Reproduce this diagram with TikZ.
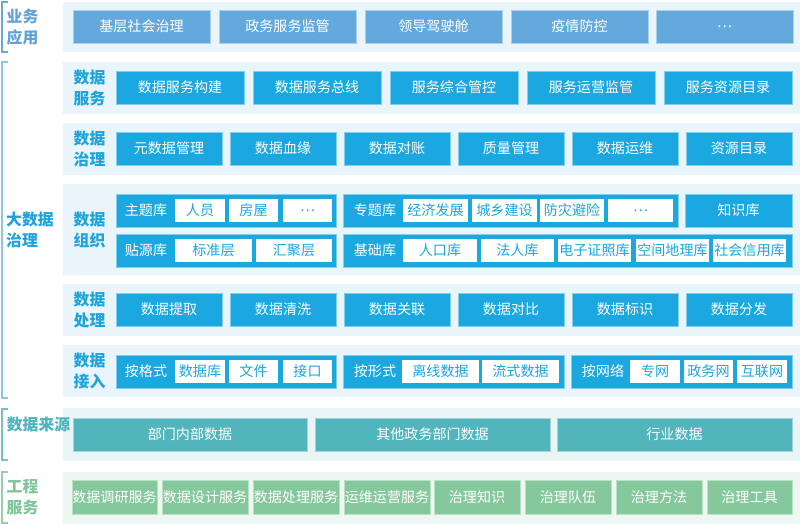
\documentclass[tikz,border=0pt]{standalone}
\usepackage{fontspec}
\setmainfont{Noto Sans CJK SC}
\usepackage{xcolor}
\usepackage{tikz}
\usetikzlibrary{positioning}
\definecolor{appblue}{HTML}{64A9DC}
\definecolor{datablue}{HTML}{1BA7DF}
\definecolor{srcteal}{HTML}{52B5BC}
\definecolor{enggreen}{HTML}{85C89C}
\definecolor{panelbg}{HTML}{E9F4FB}
\definecolor{srcbg}{HTML}{EAF5F6}
\definecolor{engbg}{HTML}{EEF7F1}
\definecolor{applabel}{HTML}{5FA3D9}
\definecolor{datalabel}{HTML}{1EA4DB}
\definecolor{srclabel}{HTML}{4DB3BC}
\definecolor{englabel}{HTML}{7FC597}
\definecolor{bigline}{HTML}{8AC6EA}
\definecolor{srcline}{HTML}{73C2C8}
\definecolor{engline}{HTML}{93D0A8}

\begin{document}
\begin{tikzpicture}
  [
    x=0.03cm, y=-0.03cm,
    Box/.style={rectangle, inner sep=0, minimum height=33*0.03cm, minimum width=#1*0.03cm, text=white, font=\fontsize{12}{14}\selectfont},
    App/.style={Box=#1, fill=appblue, draw=appblue!55!white, line width=0.6pt},
    Data/.style={Box=#1, fill=datablue, draw=datablue!55!white, line width=0.6pt},
    Src/.style={Box=#1, fill=srcteal, draw=srcteal!55!white, line width=0.6pt},
    Eng/.style={Box=#1, fill=enggreen, draw=enggreen!55!white, line width=0.6pt, minimum height=34*0.03cm},
    Tag/.style={rectangle, inner sep=0, fill=white, minimum height=23*0.03cm, minimum width=#1*0.03cm, text=datablue, font=\fontsize{12}{14}\selectfont},
    Group/.style={inner sep=0, text=white, font=\fontsize{12}{14}\selectfont},
    Panel/.style={rectangle, inner sep=0, fill=panelbg, minimum width=737*0.03cm, minimum height=#1*0.03cm},
    Label/.style={inner sep=0, align=center, text=datalabel, font=\fontsize{13.5}{17.9}\selectfont\bfseries},
    Bracket/.style={line width=1pt}
  ]
  \useasboundingbox (0,0) rectangle (800,524);
  % Panels
  \node[Panel=50] (p1) at (431.5,27) {};
  \node[Panel=52] (p2) at (431.5,88) {};
  \node[Panel=52] (p3) at (431.5,149) {};
  \node[Panel=91] (p4) at (431.5,229.5) {};
  \node[Panel=52] (p5) at (431.5,310) {};
  \node[Panel=52] (p6) at (431.5,371) {};
  \node[Panel=53, fill=srcbg] (p7) at (431.5,434.5) {};
  \node[Panel=52, fill=engbg] (p8) at (431.5,498) {};
  % Brackets
  \draw[Bracket, draw=appblue] (8,2) -- (2,2) -- (2,52) -- (8,52);
  \draw[Bracket, draw=bigline] (8,62) -- (2,62) -- (2,398) -- (8,398);
  \draw[Bracket, draw=srcline] (8,409) -- (2,409) -- (2,460) -- (8,460);
  \draw[Bracket, draw=engline] (8,472) -- (2,472) -- (2,523) -- (8,523);
  % Labels
  \node[Label, text=applabel] (l1) at (22.5,27) {业务\\应用};
  \node[Label, anchor=west, align=left] (lbig) at (6,229.5) {大数据\\治理};
  \node[Label] (l2) at (89.5,88) {数据\\服务};
  \node[Label] (l3) at (89.5,149) {数据\\治理};
  \node[Label] (l4) at (89.5,229.5) {数据\\组织};
  \node[Label] (l5) at (89.5,310) {数据\\处理};
  \node[Label] (l6) at (89.5,371) {数据\\接入};
  \node[Label, text=srclabel] (l7) at (38.5,425) {数据来源};
  \node[Label, text=englabel] (l8) at (22.5,497) {工程\\服务};
  % Business applications
  \node[App=137] (a1) at (141.5,26.5) {基层社会治理};
  \node[App=137] (a2) at (287.5,26.5) {政务服务监管};
  \node[App=137] (a3) at (433.5,26.5) {领导驾驶舱};
  \node[App=137] (a4) at (579.5,26.5) {疫情防控};
  \node[App=137] (a5) at (724.5,26.5) {…};
  % Data services
  \node[Data=128] (s1) at (180,87.5) {数据服务构建};
  \node[Data=128] (s2) at (317,87.5) {数据服务总线};
  \node[Data=128] (s3) at (454,87.5) {服务综合管控};
  \node[Data=128] (s4) at (591,87.5) {服务运营监管};
  \node[Data=128] (s5) at (728,87.5) {服务资源目录};
  % Data governance
  \node[Data=106] (g1) at (169,148.5) {元数据管理};
  \node[Data=106] (g2) at (283,148.5) {数据血缘};
  \node[Data=106] (g3) at (397,148.5) {数据对账};
  \node[Data=106] (g4) at (511,148.5) {质量管理};
  \node[Data=106] (g5) at (625,148.5) {数据运维};
  \node[Data=106] (g6) at (739,148.5) {资源目录};
  % Data organisation
  \node[Data=220] (o1) at (226,210.5) {};
  \node[Data=220] (o2) at (226,250.5) {};
  \node[Data=335] (o3) at (510.5,210.5) {};
  \node[Data=107] (o4) at (738.5,210.5) {知识库};
  \node[Data=449] (o5) at (567.5,250.5) {};
  \node[Group] (t1) at (146,210.5) {主题库};
  \node[Group] (t2) at (146,250.5) {贴源库};
  \node[Group] (t3) at (375,210.5) {专题库};
  \node[Group] (t4) at (375,250.5) {基础库};
  \node[Tag=50] (t1a) at (200,210.5) {人员};
  \node[Tag=49] (t1b) at (253.5,210.5) {房屋};
  \node[Tag=49] (t1c) at (307.5,210.5) {…};
  \node[Tag=77] (t2a) at (213.5,250.5) {标准层};
  \node[Tag=76] (t2b) at (294,250.5) {汇聚层};
  \node[Tag=65] (t3a) at (435.5,210.5) {经济发展};
  \node[Tag=65] (t3b) at (504.5,210.5) {城乡建设};
  \node[Tag=64] (t3c) at (572,210.5) {防灾避险};
  \node[Tag=65] (t3d) at (640.5,210.5) {…};
  \node[Tag=74] (t4a) at (440,250.5) {人口库};
  \node[Tag=73] (t4b) at (517.5,250.5) {法人库};
  \node[Tag=73] (t4c) at (594.5,250.5) {电子证照库};
  \node[Tag=73] (t4d) at (672.5,250.5) {空间地理库};
  \node[Tag=73] (t4e) at (749.5,250.5) {社会信用库};
  % Data processing
  \node[Data=106] (h1) at (169,309.5) {数据提取};
  \node[Data=106] (h2) at (283,309.5) {数据清洗};
  \node[Data=106] (h3) at (397,309.5) {数据关联};
  \node[Data=106] (h4) at (511,309.5) {数据对比};
  \node[Data=106] (h5) at (625,309.5) {数据标识};
  \node[Data=106] (h6) at (739,309.5) {数据分发};
  % Data access
  \node[Data=220] (i1) at (226,371.5) {};
  \node[Data=221] (i2) at (453.5,371.5) {};
  \node[Data=221] (i3) at (681.5,371.5) {};
  \node[Group] (n1) at (146,371.5) {按格式};
  \node[Group] (n2) at (375,371.5) {按形式};
  \node[Group] (n3) at (603,371.5) {按网络};
  \node[Tag=50] (i1a) at (200,371.5) {数据库};
  \node[Tag=49] (i1b) at (253.5,371.5) {文件};
  \node[Tag=49] (i1c) at (307.5,371.5) {接口};
  \node[Tag=77] (i2a) at (440.5,371.5) {离线数据};
  \node[Tag=77] (i2b) at (520.5,371.5) {流式数据};
  \node[Tag=50] (i3a) at (655,371.5) {专网};
  \node[Tag=49] (i3b) at (708.5,371.5) {政务网};
  \node[Tag=50] (i3c) at (762,371.5) {互联网};
  % Data sources
  \node[Src=234] (d1) at (190,434.5) {部门内部数据};
  \node[Src=235] (d2) at (432.5,434.5) {其他政务部门数据};
  \node[Src=235] (d3) at (674.5,434.5) {行业数据};
  % Engineering services
  \node[Eng=85] (e1) at (114.5,497) {数据调研服务};
  \node[Eng=86] (e2) at (205,497) {数据设计服务};
  \node[Eng=86] (e3) at (296,497) {数据处理服务};
  \node[Eng=86] (e4) at (387,497) {运维运营服务};
  \node[Eng=86] (e5) at (477,497) {治理知识};
  \node[Eng=86] (e6) at (568,497) {治理队伍};
  \node[Eng=86] (e7) at (659,497) {治理方法};
  \node[Eng=85] (e8) at (749.5,497) {治理工具};
\end{tikzpicture}
\end{document}
